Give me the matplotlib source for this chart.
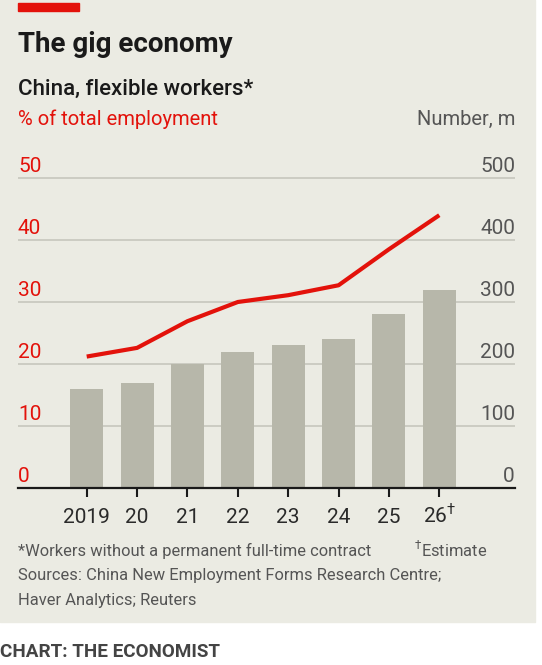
import numpy as np
import matplotlib.pyplot as plt
from matplotlib import transforms

# data
years = ["2019", "20", "21", "22", "23", "24", "25", "26"]
estimate = [False, False, False, False, False, False, False, True]
workers_m = [160, 170, 200, 220, 230, 240, 280, 320]          # bars, right axis
share_pct = [21.2, 22.6, 26.9, 30.0, 31.1, 32.7, 38.5, 44.0]  # line, left axis
pct_ticks = [0, 10, 20, 30, 40, 50]
num_ticks = [0, 100, 200, 300, 400, 500]

title = "The gig economy"
subtitle = "China, flexible workers*"
left_label = "% of total employment"
right_label = "Number, m"
note1 = "*Workers without a permanent full-time contract"
note1b = "$^{†}$Estimate"
note2 = "Sources: China New Employment Forms Research Centre;"
note3 = "Haver Analytics; Reuters"
credit = "CHART: THE ECONOMIST"

RED = "#e3120b"
BG = "#ebebe3"
BAR = "#b7b7aa"
GRID = "#c9c9c0"
INK = "#1a1a1a"
GREY = "#555555"

plt.rcParams["font.family"] = ["Roboto", "DejaVu Sans"]
plt.rcParams["mathtext.fontset"] = "custom"
plt.rcParams["mathtext.rm"] = "Roboto"

W, H, DPI = 542, 665, 100
fig = plt.figure(figsize=(W / DPI, H / DPI), dpi=DPI)
fig.patch.set_facecolor("white")


def fx(px):
    return px / W


def fy(py):
    return 1 - py / H


# panel + red tag
fig.add_artist(plt.Rectangle((0, fy(622)), fx(535), 1 - fy(622),
                             transform=fig.transFigure, color=BG, zorder=0))
fig.add_artist(plt.Rectangle((fx(18), fy(11)), fx(61), fy(3) - fy(11),
                             transform=fig.transFigure, color=RED, zorder=1))

# axes geometry (pixels)
x_left, x_right = 18, 515
y_zero, px_per_unit = 488, 0.62
y_top_val = 505
ax = fig.add_axes([fx(x_left), fy(y_zero), fx(x_right - x_left),
                   y_top_val * px_per_unit / H])
ax.set_facecolor("none")

x = np.arange(len(years))
step = 50.37
first_tick = 86.7
ax.set_xlim((x_left - first_tick) / step, (x_right - first_tick) / step)
ax.set_ylim(0, y_top_val)

ax.bar(x, workers_m, width=0.655, color=BAR, zorder=2)
ax.set_yticks(num_ticks)
ax.yaxis.grid(True, color=GRID, lw=1.3)
ax.set_axisbelow(True)
ax.tick_params(axis="y", length=0, labelleft=False, labelright=False)
for s in ["left", "right", "top"]:
    ax.spines[s].set_visible(False)
ax.spines["bottom"].set_color(INK)
ax.spines["bottom"].set_linewidth(1.6)
ax.spines["bottom"].set_zorder(4)
ax.set_xticks(x)
ax.set_xticklabels([])
ax.tick_params(axis="x", length=6.5, width=1.5, color=INK)

# x labels
xlab_tr = ax.get_xaxis_transform() + transforms.ScaledTranslation(0, -34.7 / DPI, fig.dpi_scale_trans)
for xi, lab, est in zip(x, years, estimate):
    txt = lab + ("$^{†}$" if est else "")
    ax.text(xi, 0, txt, transform=xlab_tr, ha="center", va="baseline",
            fontsize=15, color="#2a2a2a")

# line on left scale
ax2 = ax.twinx()
ax2.set_ylim(0, y_top_val / 10)
ax2.plot(x, share_pct, color=RED, lw=3.0, solid_capstyle="butt", zorder=5)
ax2.set_yticks([])
for s in ax2.spines.values():
    s.set_visible(False)

up = transforms.ScaledTranslation(0, 6.3 / DPI, fig.dpi_scale_trans)
for v in pct_ticks:
    tr = transforms.blended_transform_factory(ax2.transAxes, ax2.transData) + up
    ax2.text(0, v, str(v), transform=tr, ha="left", va="baseline",
             fontsize=15, color=RED)
for v in num_ticks:
    tr = transforms.blended_transform_factory(ax.transAxes, ax.transData) + up
    ax.text(1, v, str(v), transform=tr, ha="right", va="baseline",
            fontsize=15, color=GREY)

# titles and notes
fig.text(fx(18), fy(52), title, fontsize=20, fontweight="bold", color=INK,
         va="baseline")
fig.text(fx(18), fy(95), subtitle, fontsize=16, fontweight="medium", color=INK,
         va="baseline")
fig.text(fx(18), fy(125), left_label, fontsize=14.5, color=RED, va="baseline")
fig.text(fx(515), fy(125), right_label, fontsize=14.5, color=GREY, va="baseline",
         ha="right")
fig.text(fx(18), fy(556), note1, fontsize=11.9, color=GREY, va="baseline")
fig.text(fx(414), fy(556), note1b, fontsize=11.9, color=GREY, va="baseline")
fig.text(fx(18), fy(580), note2, fontsize=11.9, color=GREY, va="baseline")
fig.text(fx(18), fy(605), note3, fontsize=11.9, color=GREY, va="baseline")
fig.text(fx(0), fy(657), credit, fontsize=13.6, fontweight="bold", color="#444444",
         va="baseline")

fig.savefig("out.png", dpi=DPI, facecolor="white")
